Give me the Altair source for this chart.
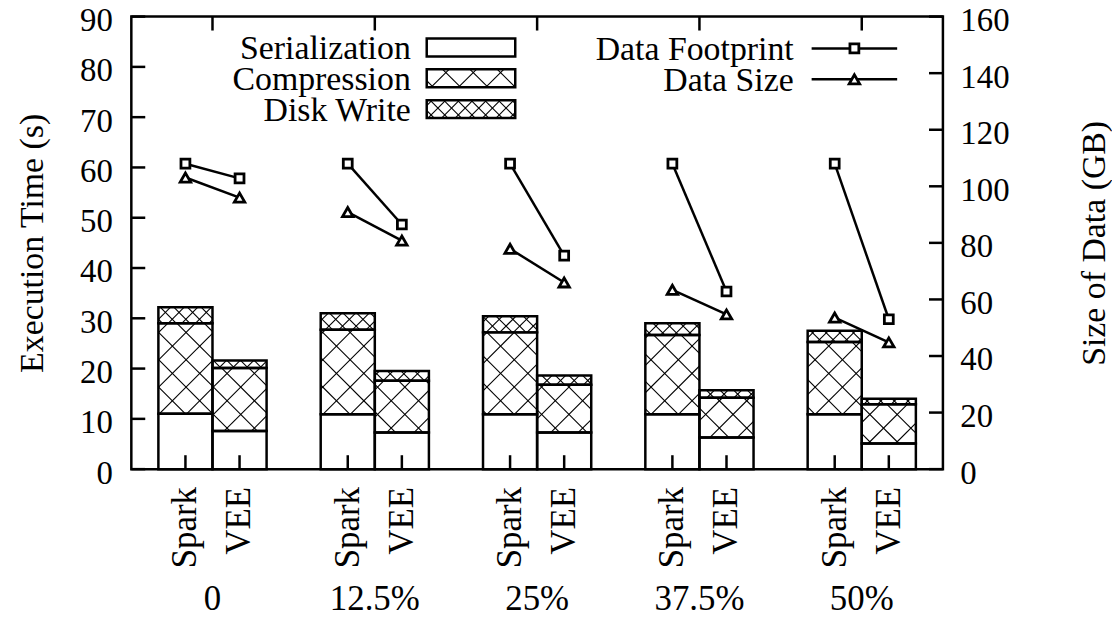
import altair as alt
import pandas as pd
import numpy as np

# ---------------- data ----------------
groups = ["0", "12.5%", "25%", "37.5%", "50%"]
systems = ["Spark", "VEE"]
components = ["Serialization", "Compression", "Disk Write"]

# Execution time (s)
serialization_spark = [11.0, 10.9, 10.9, 10.9, 10.9]
serialization_vee = [7.6, 7.3, 7.3, 6.3, 5.1]
compression_spark = [18.0, 16.8, 16.3, 15.8, 14.4]
compression_vee = [12.5, 10.3, 9.5, 7.9, 7.8]
disk_write_spark = [3.2, 3.3, 3.2, 2.3, 2.2]
disk_write_vee = [1.5, 1.9, 1.8, 1.5, 1.1]

# Size of data (GB)
footprint_spark = [108.0, 108.0, 108.0, 108.0, 108.0]
footprint_vee = [102.8, 86.5, 75.5, 62.8, 53.0]
datasize_spark = [103.1, 90.9, 77.9, 63.4, 53.6]
datasize_vee = [96.0, 80.8, 66.0, 54.7, 44.8]

left_ticks = list(range(0, 91, 10))
right_ticks = list(range(0, 161, 20))

# ---------------- layout / style ----------------
W, H = 816, 455
XMAX, YMAX, GBMAX = 15, 90, 160
SX, SY = W / XMAX, H / YMAX
FONT = "Liberation Serif"
FS_TICK = 33
FS_TITLE = 34
FS_LEG = 34
FS_X = 35
TICK = 14
LW = 2.5
hatch_spacing = {"Serialization": None, "Compression": 27.5, "Disk Write": 13.7}

xs = alt.Scale(domain=[0, XMAX], nice=False, zero=False)
ys = alt.Scale(domain=[0, YMAX], nice=False)
yr = alt.Scale(domain=[0, GBMAX], nice=False)


def hatch(x0, x1, y0, y1, s):
    """45-degree cross-hatch segments clipped to a pixel rectangle (y up)."""
    segs = []
    for k in range(int(np.floor((x0 + y0) / s)) - 1, int(np.ceil((x1 + y1) / s)) + 2):
        c = k * s
        lo, hi = max(x0, c - y1), min(x1, c - y0)
        if hi - lo > 0.4:
            segs.append((lo, c - lo, hi, c - hi))
    for k in range(int(np.floor((x0 - y1) / s)) - 1, int(np.ceil((x1 - y0) / s)) + 2):
        c = k * s
        lo, hi = max(x0, c + y0), min(x1, c + y1)
        if hi - lo > 0.4:
            segs.append((lo, lo - c, hi, hi - c))
    return segs


comp_vals = {
    ("Spark", "Serialization"): serialization_spark,
    ("VEE", "Serialization"): serialization_vee,
    ("Spark", "Compression"): compression_spark,
    ("VEE", "Compression"): compression_vee,
    ("Spark", "Disk Write"): disk_write_spark,
    ("VEE", "Disk Write"): disk_write_vee,
}

bar_rows, hatch_rows, lab_rows = [], [], []
for i, g in enumerate(groups):
    for j, s in enumerate(systems):
        pos = 3 * i + 1 + j
        lab_rows.append({"x": pos, "label": s})
        base = 0.0
        for c in components:
            v = comp_vals[(s, c)][i]
            r = {"x": pos - 0.5, "x2": pos + 0.5, "y": base, "y2": base + v, "comp": c}
            bar_rows.append(r)
            sp = hatch_spacing[c]
            if sp:
                for (a, b, cc, d) in hatch(r["x"] * SX, r["x2"] * SX, r["y"] * SY, r["y2"] * SY, sp):
                    hatch_rows.append({"x": a / SX, "y": b / SY, "x2": cc / SX, "y2": d / SY})
            base += v

# legend boxes (pixel layout -> data units)
leg_text_x, leg_box_x0, leg_box_x1 = 281, 297, 386
leg_rows_y = [31, 62, 93]
leg_box_h = 18
leg_rows, leg_text = [], []
for c, cy in zip(components, leg_rows_y):
    px0, px1 = leg_box_x0, leg_box_x1
    pyt, pyb = H - (cy - leg_box_h / 2), H - (cy + leg_box_h / 2)
    r = {"x": px0 / SX, "x2": px1 / SX, "y": pyb / SY, "y2": pyt / SY}
    leg_rows.append(r)
    leg_text.append({"x": leg_text_x / SX, "y": (H - cy - 2) / SY, "label": c})
    sp = hatch_spacing[c]
    if sp:
        for (a, b, cc, d) in hatch(px0, px1, pyb, pyt, sp):
            hatch_rows.append({"x": a / SX, "y": b / SY, "x2": cc / SX, "y2": d / SY})

bars = pd.DataFrame(bar_rows + leg_rows)
hatches = pd.DataFrame(hatch_rows)
labels = pd.DataFrame(lab_rows)
group_df = pd.DataFrame({"x": [3 * i + 1.5 for i in range(len(groups))], "label": groups})
leg_text_df = pd.DataFrame(leg_text)

line_rows = []
for i in range(len(groups)):
    for j, s in enumerate(systems):
        pos = 3 * i + 1 + j
        fp = (footprint_spark if j == 0 else footprint_vee)[i]
        ds = (datasize_spark if j == 0 else datasize_vee)[i]
        line_rows.append({"x": pos, "gb": fp, "series": "Data Footprint", "key": f"fp{i}"})
        line_rows.append({"x": pos, "gb": ds, "series": "Data Size", "key": f"ds{i}"})
lines = pd.DataFrame(line_rows)

left_axis = alt.Axis(values=left_ticks, ticks=False, domain=False, grid=False,
                     labelFont=FONT, labelFontSize=FS_TICK, labelColor="black", labelPadding=19,
                     labelOffset=4,
                     title="Execution Time (s)", titleFont=FONT, titleFontSize=FS_TITLE,
                     titleFontWeight="normal", titleColor="black", titlePadding=30)
right_axis = alt.Axis(orient="right", values=right_ticks, ticks=False, domain=False, grid=False,
                      labelFont=FONT, labelFontSize=FS_TICK, labelColor="black", labelPadding=17,
                      labelOffset=4,
                      title="Size of Data (GB)", titleFont=FONT, titleFontSize=FS_TITLE,
                      titleFontWeight="normal", titleColor="black", titleAngle=270,
                      titleBaseline="top", titlePadding=69)

X = alt.X("x:Q", scale=xs, axis=None)
Y = alt.Y("y:Q", scale=ys, axis=left_axis)

rect_fill = alt.Chart(bars).mark_rect(fill="white", strokeWidth=0).encode(x=X, x2="x2:Q", y=Y, y2="y2:Q")
hatch_layer = alt.Chart(hatches).mark_rule(color="black", strokeWidth=1.1).encode(
    x=X, x2="x2:Q", y=Y, y2="y2:Q")
rect_edge = alt.Chart(bars).mark_rect(fillOpacity=0, stroke="black", strokeWidth=LW).encode(
    x=X, x2="x2:Q", y=Y, y2="y2:Q")

lt = alt.Chart(pd.DataFrame({"y": left_ticks})).mark_rule(color="black", strokeWidth=LW).encode(
    y=Y, x=alt.value(0), x2=alt.value(TICK))
bt = alt.Chart(labels).mark_rule(color="black", strokeWidth=LW).encode(
    x=X, y=alt.value(H - TICK), y2=alt.value(H))
tt = alt.Chart(group_df).mark_rule(color="black", strokeWidth=LW).encode(
    x=X, y=alt.value(0), y2=alt.value(TICK))

sys_text = alt.Chart(labels).mark_text(font=FONT, fontSize=FS_X, angle=270, align="right",
                                       baseline="middle", color="black").encode(
    x=X, y=alt.value(H + 18), text="label:N")
grp_text = alt.Chart(group_df).mark_text(font=FONT, fontSize=FS_X, align="center",
                                         baseline="middle", color="black").encode(
    x=X, y=alt.value(H + 131), text="label:N")
leg_txt = alt.Chart(leg_text_df).mark_text(font=FONT, fontSize=FS_LEG, align="right",
                                           baseline="middle", color="black").encode(
    x=X, y=Y, text="label:N")

# right-hand legend (pixel layout)
r_leg_text_x, r_leg_x0, r_leg_x1, r_leg_mx = 666, 684, 770, 727
r_leg_y = [32, 63]
rleg_layers = []
for lab, py, shp, sz in zip(["Data Footprint", "Data Size"], r_leg_y, ["square", "triangle-up"], [80, 110]):
    d = pd.DataFrame({"label": [lab]})
    rleg_layers.append(alt.Chart(d).mark_text(font=FONT, fontSize=FS_LEG, align="right", baseline="middle",
                                             color="black").encode(
        x=alt.value(r_leg_text_x), y=alt.value(py + 2), text="label:N"))
    rleg_layers.append(alt.Chart(d).mark_rule(color="black", strokeWidth=LW).encode(
        x=alt.value(r_leg_x0), x2=alt.value(r_leg_x1), y=alt.value(py)))
    rleg_layers.append(alt.Chart(d).mark_point(shape=shp, size=sz, filled=True, fill="white",
                                               stroke="black", strokeWidth=2.8, opacity=1).encode(
        x=alt.value(r_leg_mx), y=alt.value(py)))

left = alt.layer(rect_fill, hatch_layer, rect_edge, lt, bt, tt, sys_text, grp_text, leg_txt, *rleg_layers)

YR = alt.Y("gb:Q", scale=yr, axis=right_axis)
line_layer = alt.Chart(lines).mark_line(color="black", strokeWidth=LW).encode(x=X, y=YR, detail="key:N")
pt_layer = alt.Chart(lines).mark_point(filled=True, fill="white", stroke="black", strokeWidth=2.8,
                                       opacity=1).encode(
    x=X, y=YR,
    shape=alt.Shape("series:N", scale=alt.Scale(domain=["Data Footprint", "Data Size"],
                                                range=["square", "triangle-up"]), legend=None),
    size=alt.Size("series:N", scale=alt.Scale(domain=["Data Footprint", "Data Size"], range=[80, 110]),
                  legend=None))
rt = alt.Chart(pd.DataFrame({"gb": right_ticks})).mark_rule(color="black", strokeWidth=LW).encode(
    y=YR, x=alt.value(W - TICK), x2=alt.value(W))
right = alt.layer(line_layer, pt_layer, rt)

chart = alt.layer(left, right).resolve_scale(y="independent").properties(
    width=W, height=H,
    autosize=alt.AutoSizeParams(type="none"),
    padding={"left": 124, "top": 7, "right": 170, "bottom": 145},
).configure_view(stroke="black", strokeWidth=LW)

chart.save("out.html", embed_options={"renderer": "svg", "actions": False})
